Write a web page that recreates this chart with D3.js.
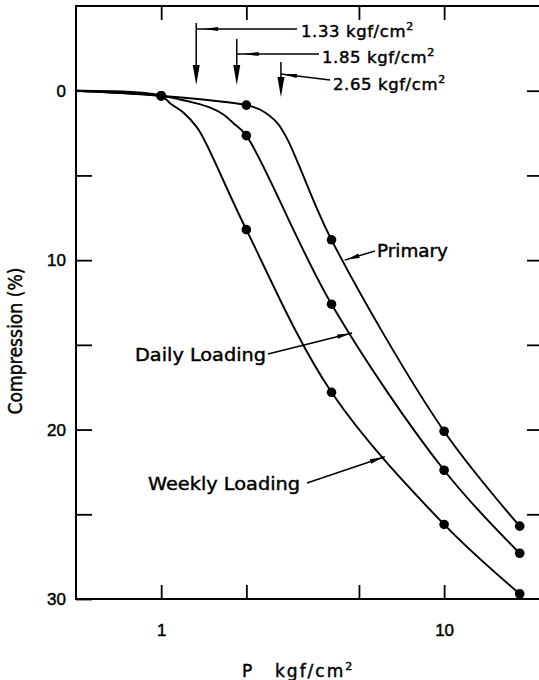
<!DOCTYPE html>
<html>
  <head>
    <meta charset="utf-8">
    <title>Compression under loading</title>
    <script src="https://cdn.jsdelivr.net/npm/d3@7"></script>
    <style>
      body { margin: 0; background: #fff; }
      #chart { display: block; font-family: "DejaVu Sans", sans-serif; }
      #chart text { fill: #000; stroke: #000; stroke-width: 0.45px; }
      .axis text { font-size: 17px; }
      .axis line { stroke: #000; stroke-width: 1.8; }
      .axis .domain { display: none; }
      .frame { fill: none; stroke: #000; stroke-width: 2; }
      .curve { fill: none; stroke: #000; stroke-width: 1.9; }
      .dot { fill: #000; }
      .lead { stroke: #000; stroke-width: 1.5; fill: none; }
      .head { fill: #000; }
      .note { font-size: 16.5px; letter-spacing: 0.6px; }
      .label { font-size: 18.5px; }
    </style>
  </head>

  <body>
    <svg id="chart" width="539" height="680"></svg>

    <script>
      // measured points (P in kgf/cm2, compression in %)
      const loads = [1, 2, 4, 10, 18.5];
      const primaryPoints = [0.3, 0.85, 8.8, 20.1, 25.7];
      const dailyPoints = [0.3, 2.65, 12.6, 22.4, 27.3];
      const weeklyPoints = [0.3, 8.2, 17.8, 25.6, 29.7];

      // drawn curves
      const primaryLineP = [0.5, 1, 2, 2.25, 2.57, 2.8, 3.05, 4, 10, 18.5];
      const primaryLineC = [0, 0.3, 0.85, 1.14, 1.9, 2.9, 4.3, 8.8, 20.1, 25.7];
      const dailyLineP = [0.5, 1, 1.15, 1.3, 1.49, 1.66, 1.81, 2, 4, 10, 18.5];
      const dailyLineC = [0, 0.3, 0.5, 0.7, 1.0, 1.4, 1.95, 2.65, 12.6, 22.4, 27.3];
      const weeklyLineP = [0.5, 1, 1.08, 1.2, 1.34, 1.44, 2, 4, 10, 18.5];
      const weeklyLineC = [0, 0.3, 0.77, 1.3, 2.18, 3.1, 8.2, 17.8, 25.6, 29.7];

      const seriesNames = ["Primary", "Daily Loading", "Weekly Loading"];
      // where each label's leader meets its curve [P, compression]
      const seriesTips = [[4.45, 10.0], [4.73, 14.3], [6.17, 21.6]];

      // pressure markers along the top
      const markerValues = [1.33, 1.85, 2.65];
      const markerText = ["1.33 kgf/cm", "1.85 kgf/cm", "2.65 kgf/cm"];

      // ticks
      const yTicks = [0, 5, 10, 15, 20, 25, 30];
      const yLabels = [0, 10, 20, 30];
      const xTicks = [1, 2, 5, 10];
      const xLabels = [1, 10];

      // layout (pixels)
      const box = { left: 76, right: 541, top: 6, bottom: 599 };
      const noteLayout = {
        top: [23, 39, 62], bottom: [85, 85, 97], leadY: [29, 54, 74],
        endX: [297, 319, 330], endY: [29, 54, 80],
        textX: [301, 322, 333], textY: [37, 63, 90], headOff: [7, 7, 1]
      };
      const labelLayout = {
        x: [377, 135, 148], y: [257, 361, 490], len: [71, 131, 152],
        start: [[375, 251], [268, 354], [307, 483]]
      };

      const chart = d3.select("#chart");

      const x = d3.scaleLog().domain([0.5, 22]).range([box.left, box.right]);
      const y = d3.scaleLinear().domain([-5, 30]).range([box.top, box.bottom]);

      // axes, ticks pointing inward
      chart.append("g").attr("class", "axis")
        .attr("transform", "translate(" + box.left + ",0)")
        .call(d3.axisLeft(y).tickValues(yTicks).tickSize(-16).tickPadding(10)
          .tickFormat(d => yLabels.includes(d) ? d : ""));
      chart.append("g").attr("class", "axis")
        .attr("transform", "translate(" + box.right + ",0)")
        .call(d3.axisRight(y).tickValues(yTicks.slice(0, -1)).tickSize(-14).tickFormat(""));
      chart.append("g").attr("class", "axis")
        .attr("transform", "translate(0," + box.bottom + ")")
        .call(d3.axisBottom(x).tickValues(xTicks).tickSize(-14).tickPadding(25)
          .tickFormat(d => xLabels.includes(d) ? d : ""));
      chart.append("g").attr("class", "axis")
        .attr("transform", "translate(0," + box.top + ")")
        .call(d3.axisTop(x).tickValues(xTicks).tickSize(-14).tickFormat(""));

      chart.append("rect").attr("class", "frame")
        .attr("x", box.left).attr("y", box.top)
        .attr("width", box.right - box.left).attr("height", box.bottom - box.top);

      // axis titles
      chart.append("text")
        .attr("transform", "translate(22,341) rotate(-90)")
        .attr("text-anchor", "middle")
        .attr("font-size", 19)
        .attr("textLength", 147).attr("lengthAdjust", "spacingAndGlyphs")
        .text("Compression (%)");
      const xTitle = chart.append("text")
        .attr("x", 242).attr("y", 677)
        .attr("font-size", 17).attr("letter-spacing", 2);
      xTitle.append("tspan").text("P");
      xTitle.append("tspan").attr("x", 275).text("kgf/cm");
      xTitle.append("tspan").attr("dy", -7).attr("font-size", 11).text("2");

      // curves
      const line = d3.line()
        .x(d => x(d[0]))
        .y(d => y(d[1]))
        .curve(d3.curveCatmullRom.alpha(0.5));
      const traces = [
        d3.zip(primaryLineP, primaryLineC),
        d3.zip(dailyLineP, dailyLineC),
        d3.zip(weeklyLineP, weeklyLineC)
      ];
      chart.selectAll(".curve")
        .data(traces)
        .enter().append("path")
          .attr("class", "curve")
          .attr("d", line);

      const points = [primaryPoints, dailyPoints, weeklyPoints]
        .flatMap(s => d3.zip(loads, s));
      chart.selectAll(".dot")
        .data(points)
        .enter().append("circle")
          .attr("class", "dot")
          .attr("r", 4.8)
          .attr("cx", d => x(d[0]))
          .attr("cy", d => y(d[1]));

      function arrowHead(tip, from, len, hw) {
        let dx = tip[0] - from[0], dy = tip[1] - from[1];
        let d = Math.hypot(dx, dy);
        let ux = dx / d, uy = dy / d;
        let bx = tip[0] - ux * len, by = tip[1] - uy * len;
        return "M" + tip[0] + "," + tip[1] +
          "L" + (bx - uy * hw) + "," + (by + ux * hw) +
          "L" + (bx + uy * hw) + "," + (by - ux * hw) + "Z";
      }

      // pressure markers
      markerValues.forEach(function(v, i) {
        let vx = x(v);
        let L = noteLayout;
        chart.append("line").attr("class", "lead")
          .attr("x1", vx).attr("x2", vx)
          .attr("y1", L.top[i]).attr("y2", L.bottom[i] - 6);
        chart.append("path").attr("class", "head")
          .attr("d", arrowHead([vx, L.bottom[i]], [vx, L.top[i]], 20, 3.5));
        chart.append("line").attr("class", "lead")
          .attr("x1", vx).attr("y1", L.leadY[i])
          .attr("x2", L.endX[i]).attr("y2", L.endY[i]);
        let dx = L.endX[i] - vx, dy = L.endY[i] - L.leadY[i];
        let d = Math.hypot(dx, dy);
        let tip = [vx + dx / d * L.headOff[i], L.leadY[i] + dy / d * L.headOff[i]];
        chart.append("path").attr("class", "head")
          .attr("d", arrowHead(tip, [L.endX[i], L.endY[i]], 15, 2));
        let t = chart.append("text").attr("class", "note")
          .attr("x", L.textX[i]).attr("y", L.textY[i]);
        t.append("tspan").text(markerText[i]);
        t.append("tspan").attr("dy", -7).attr("font-size", 11).text("2");
      });

      // curve labels with leaders
      seriesNames.forEach(function(name, i) {
        let tipPx = [x(seriesTips[i][0]), y(seriesTips[i][1])];
        let start = labelLayout.start[i];
        chart.append("line").attr("class", "lead")
          .attr("x1", start[0]).attr("y1", start[1])
          .attr("x2", tipPx[0]).attr("y2", tipPx[1]);
        let dx = start[0] - tipPx[0], dy = start[1] - tipPx[1];
        let d = Math.hypot(dx, dy);
        let headTip = [tipPx[0] + dx / d * 2, tipPx[1] + dy / d * 2];
        chart.append("path").attr("class", "head")
          .attr("d", arrowHead(headTip, start, 13, 2.3));
        chart.append("text").attr("class", "label")
          .attr("x", labelLayout.x[i]).attr("y", labelLayout.y[i])
          .attr("textLength", labelLayout.len[i])
          .attr("lengthAdjust", "spacingAndGlyphs")
          .text(name);
      });
    </script>
  </body>
</html>
